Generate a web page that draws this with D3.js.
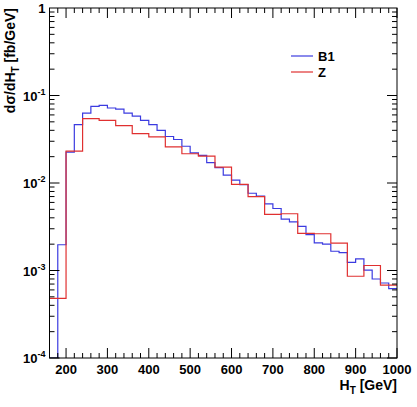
<!DOCTYPE html>
<html><head><meta charset="utf-8">
<script src="https://cdn.jsdelivr.net/npm/d3@7"></script>
<style>body{margin:0;background:#fff}svg{display:block;font-family:"Liberation Sans",Arial,sans-serif;font-weight:bold}</style>
</head><body><svg id="c" width="417" height="407"></svg>
<script>
const blueEdges = d3.range(160, 1001, 20);
const blueValues = [0.00005,0.00197,0.0225,0.0465,0.063,0.075,0.077,0.072,0.070,0.063,0.058,0.052,0.0465,0.040,0.034,0.0314,0.0263,0.0221,0.0207,0.0171,0.015,0.0123,
0.0108,0.0096,0.00764,0.0071,0.00577,0.00511,0.00386,0.0036,0.00319,0.00257,0.00207,0.0020,0.00166,0.0016,0.00124,0.00136,0.00101,0.0008,0.00072,0.00062];
const redEdges = [160,200,240,280,320,360,400,440,480,520,560,600,640,680,720,760,800,840,880,920,960,1000];
const redValues = [0.00048,0.0231,0.0543,0.052,0.0453,0.0367,0.0336,0.0259,0.0216,0.0203,0.0152,0.00966,0.0070,0.00437,0.00445,0.00266,0.00263,0.00205,0.00086,0.00114,0.00068];
const xTicks = [200,300,400,500,600,700,800,900,1000];
const yTicks = [1e-4,1e-3,1e-2,1e-1,1];
const yTickLabels = [["10","-4"],["10","-3"],["10","-2"],["10","-1"],["1",""]];

const svg = d3.select("#c");
const L=49.5,R=397,T=8,B=358;
const x = d3.scaleLinear().domain([160,1000]).range([L,R]);
const y = d3.scaleLog().domain([1e-4,1]).range([B,T]).clamp(true);

svg.append("defs").append("clipPath").attr("id","cp").append("rect").attr("x",L).attr("y",T).attr("width",R-L).attr("height",B-T);

function stepLine(edges, vals){
  const pts=[];
  vals.forEach((v,i)=>{pts.push([edges[i],v]);pts.push([edges[i+1],v]);});
  return d3.line().x(d=>x(d[0])).y(d=>y(d[1]))(pts);
}
const g = svg.append("g").attr("clip-path","url(#cp)");
g.append("path").attr("d",stepLine(blueEdges,blueValues)).attr("fill","none").attr("stroke","#3b3be0").attr("stroke-width",1.2);
g.append("path").attr("d",stepLine(redEdges,redValues)).attr("fill","none").attr("stroke","#e03030").attr("stroke-width",1.2);

// frame
svg.append("rect").attr("x",L).attr("y",T).attr("width",R-L).attr("height",B-T).attr("fill","none").attr("stroke","#000").attr("stroke-width",1);

// x ticks
const minorX = d3.range(160,1001,20);
minorX.forEach(v=>{
  const major = v%100===0, len = major?10:5;
  svg.append("line").attr("x1",x(v)).attr("x2",x(v)).attr("y1",B).attr("y2",B-len).attr("stroke","#000");
  svg.append("line").attr("x1",x(v)).attr("x2",x(v)).attr("y1",T).attr("y2",T+len).attr("stroke","#000");
});
xTicks.forEach(v=>svg.append("text").attr("x",x(v)).attr("y",B+16).attr("text-anchor","middle").attr("font-size",13).text(v));

// y ticks
for(let e=-4;e<0;e++){
  for(let m=1;m<10;m++){
    const v=m*Math.pow(10,e), len=m===1?10:5;
    svg.append("line").attr("x1",L).attr("x2",L+len).attr("y1",y(v)).attr("y2",y(v)).attr("stroke","#000");
    svg.append("line").attr("x1",R).attr("x2",R-len).attr("y1",y(v)).attr("y2",y(v)).attr("stroke","#000");
  }
}
yTicks.forEach((v,i)=>{
  const t=svg.append("text").attr("x",L-4).attr("y",y(v)+5).attr("text-anchor","end").attr("font-size",13);
  if(yTickLabels[i][1]){
    t.append("tspan").text(yTickLabels[i][0]);
    t.append("tspan").attr("dy",-6).attr("font-size",9).text(yTickLabels[i][1]);
  } else t.text(yTickLabels[i][0]);
});

// axis titles
const xt=svg.append("text").attr("x",R).attr("y",B+32).attr("text-anchor","end").attr("font-size",14);
xt.append("tspan").text("H");xt.append("tspan").attr("font-size",10).attr("dy",4).text("T");
xt.append("tspan").attr("dy",-4).text(" [GeV]");
const yt=svg.append("text").attr("transform","translate(15,8) rotate(-90)").attr("text-anchor","end").attr("font-size",14);
yt.append("tspan").text("dσ/dH");yt.append("tspan").attr("font-size",10).attr("dy",4).text("T");
yt.append("tspan").attr("dy",-4).text(" [fb/GeV]");

// legend
const leg=[["B1","#3b3be0",56],["Z","#e03030",72]];
leg.forEach(d=>{
  svg.append("line").attr("x1",291).attr("x2",313).attr("y1",d[2]).attr("y2",d[2]).attr("stroke",d[1]).attr("stroke-width",1.2);
  svg.append("text").attr("x",318).attr("y",d[2]+5).attr("font-size",13).text(d[0]);
});
</script></body></html>
